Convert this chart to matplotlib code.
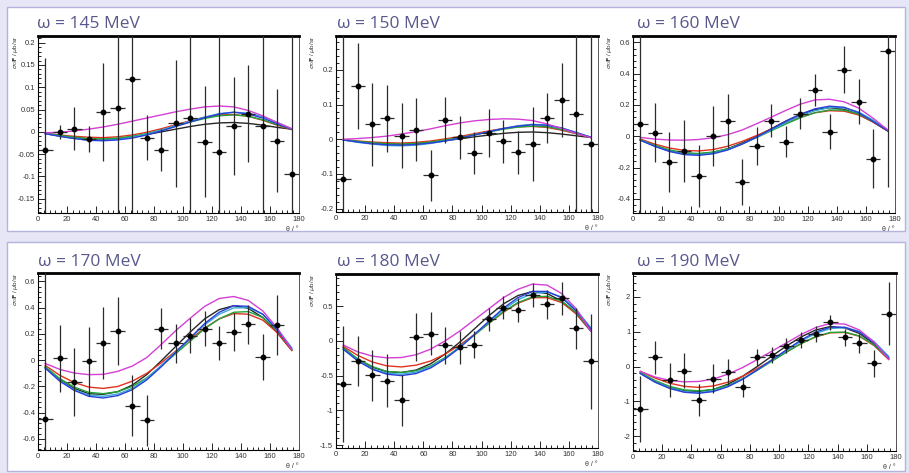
"""
Beam-asymmetry style panels (sigma_0 F vs theta) for six photon energies, ROOT look.
"""
import matplotlib as mpl
import matplotlib.pyplot as plt
from matplotlib.patches import Rectangle
from matplotlib.ticker import MultipleLocator, FuncFormatter

W, H = 909, 473

mpl.rcParams.update({
    "font.family": ["Liberation Sans", "DejaVu Sans"],
    "axes.unicode_minus": False,
})

THETA = [5, 15, 25, 35, 45, 55, 65, 75, 85, 95, 105, 115, 125, 135, 145, 155, 165, 175]
ENERGIES = [145, 150, 160, 170, 180, 190]

# --- measured points ---
Y_145 = [-0.040, -0.001, 0.007, -0.016, 0.045, 0.054, 0.118, -0.013, -0.040, 0.019,
         0.032, -0.022, -0.046, 0.013, 0.041, 0.013, -0.020, -0.094]
ERR_145 = [0.205, 0.016, 0.048, 0.030, 0.110, 0.400, 0.400, 0.051, 0.047, 0.142,
           0.400, 0.125, 0.400, 0.110, 0.108, 0.400, 0.116, 0.400]

Y_150 = [-0.116, 0.154, 0.043, 0.060, 0.010, 0.028, -0.104, 0.055, 0.006, -0.039,
         0.018, -0.006, -0.037, -0.014, 0.061, 0.113, 0.074, -0.015]
ERR_150 = [0.500, 0.123, 0.120, 0.098, 0.094, 0.090, 0.074, 0.066, 0.062, 0.060,
           0.070, 0.062, 0.062, 0.106, 0.073, 0.107, 0.400, 0.400]

Y_160 = [0.081, 0.023, -0.164, -0.094, -0.255, 0.000, 0.098, -0.294, -0.064, 0.100,
         -0.034, 0.145, 0.294, 0.030, 0.426, 0.219, -0.143, 0.545]
ERR_160 = [0.700, 0.190, 0.190, 0.200, 0.196, 0.190, 0.170, 0.146, 0.120, 0.104,
           0.100, 0.098, 0.102, 0.110, 0.147, 0.144, 0.187, 0.870]

Y_170 = [-0.447, 0.015, -0.165, -0.010, 0.130, 0.224, -0.346, -0.457, 0.241, 0.130,
         0.188, 0.241, 0.130, 0.213, 0.274, 0.023, 0.269]
ERR_170 = [1.300, 0.254, 0.260, 0.264, 0.273, 0.260, 0.230, 0.193, 0.159, 0.149,
           0.130, 0.130, 0.132, 0.144, 0.150, 0.174, 0.231]

Y_180 = [-0.617, -0.287, -0.498, -0.574, -0.856, 0.053, 0.100, -0.067, -0.091, -0.053,
         0.311, 0.474, 0.445, 0.660, 0.522, 0.608, 0.177, -0.297]
ERR_180 = [0.830, 0.360, 0.370, 0.380, 0.370, 0.350, 0.310, 0.260, 0.235, 0.200,
           0.165, 0.163, 0.177, 0.175, 0.210, 0.230, 0.300, 0.680]

Y_190 = [-1.221, 0.260, -0.394, -0.115, -0.971, -0.356, -0.154, -0.596, 0.269, 0.327,
         0.596, 0.760, 0.933, 1.269, 0.837, 0.663, 0.087, 1.519]
ERR_190 = [0.950, 0.470, 0.490, 0.490, 0.460, 0.420, 0.380, 0.290, 0.240, 0.225,
           0.220, 0.230, 0.220, 0.225, 0.240, 0.280, 0.400, 0.900]

# --- model curves, read at THETA ---
MAG_145 = [-0.002, -0.001, 0.002, 0.006, 0.011, 0.017, 0.024, 0.031, 0.038, 0.045,
           0.051, 0.056, 0.058, 0.056, 0.048, 0.036, 0.021, 0.007]
BLU_145 = [-0.004, -0.010, -0.015, -0.019, -0.020, -0.018, -0.014, -0.007, 0.002, 0.012,
           0.022, 0.032, 0.040, 0.044, 0.040, 0.031, 0.018, 0.006]
CYA_145 = [-0.004, -0.010, -0.015, -0.018, -0.019, -0.017, -0.012, -0.005, 0.004, 0.014,
           0.024, 0.033, 0.041, 0.044, 0.042, 0.034, 0.021, 0.007]
GRN_145 = [-0.003, -0.008, -0.012, -0.015, -0.016, -0.014, -0.010, -0.004, 0.004, 0.013,
           0.022, 0.030, 0.036, 0.038, 0.035, 0.027, 0.016, 0.006]
RED_145 = [-0.003, -0.007, -0.010, -0.012, -0.013, -0.011, -0.007, -0.001, 0.007, 0.016,
           0.025, 0.033, 0.038, 0.039, 0.035, 0.026, 0.015, 0.005]
BLK_145 = [-0.004, -0.009, -0.013, -0.016, -0.017, -0.015, -0.011, -0.006, 0.000, 0.006,
           0.012, 0.017, 0.020, 0.021, 0.019, 0.015, 0.010, 0.006]

MAG_150 = [0.000, 0.002, 0.005, 0.009, 0.015, 0.022, 0.030, 0.039, 0.047, 0.053,
           0.057, 0.059, 0.058, 0.054, 0.044, 0.031, 0.017, 0.005]
BLU_150 = [-0.002, -0.008, -0.013, -0.016, -0.017, -0.015, -0.011, -0.005, 0.003, 0.012,
           0.022, 0.031, 0.038, 0.042, 0.040, 0.032, 0.019, 0.006]
CYA_150 = [-0.002, -0.009, -0.014, -0.018, -0.019, -0.017, -0.012, -0.005, 0.003, 0.012,
           0.022, 0.031, 0.039, 0.043, 0.041, 0.033, 0.020, 0.006]
GRN_150 = [-0.001, -0.006, -0.010, -0.013, -0.014, -0.012, -0.008, -0.002, 0.005, 0.013,
           0.021, 0.029, 0.035, 0.038, 0.036, 0.028, 0.017, 0.006]
RED_150 = [-0.001, -0.005, -0.008, -0.010, -0.011, -0.009, -0.005, 0.001, 0.008, 0.016,
           0.024, 0.031, 0.036, 0.037, 0.034, 0.026, 0.016, 0.005]
BLK_150 = [-0.002, -0.007, -0.011, -0.013, -0.014, -0.012, -0.009, -0.004, 0.001, 0.007,
           0.012, 0.017, 0.020, 0.021, 0.019, 0.015, 0.010, 0.005]

MAG_160 = [-0.008, -0.018, -0.024, -0.025, -0.021, -0.010, 0.010, 0.040, 0.080, 0.122,
           0.165, 0.205, 0.232, 0.236, 0.220, 0.180, 0.115, 0.040]
BLU_160 = [-0.025, -0.065, -0.097, -0.117, -0.122, -0.112, -0.088, -0.050, -0.005, 0.045,
           0.095, 0.140, 0.175, 0.192, 0.185, 0.150, 0.095, 0.035]
CYA_160 = [-0.025, -0.064, -0.095, -0.113, -0.118, -0.108, -0.085, -0.050, -0.007, 0.040,
           0.087, 0.130, 0.163, 0.183, 0.182, 0.155, 0.103, 0.040]
GRN_160 = [-0.022, -0.058, -0.087, -0.105, -0.110, -0.101, -0.080, -0.048, -0.008, 0.035,
           0.078, 0.118, 0.150, 0.168, 0.166, 0.142, 0.096, 0.037]
RED_160 = [-0.018, -0.050, -0.075, -0.090, -0.094, -0.085, -0.064, -0.033, 0.005, 0.045,
           0.085, 0.122, 0.150, 0.163, 0.160, 0.136, 0.092, 0.035]
BLK_160 = [-0.022, -0.060, -0.090, -0.108, -0.113, -0.103, -0.080, -0.043, 0.000, 0.048,
           0.097, 0.140, 0.170, 0.182, 0.172, 0.140, 0.090, 0.033]

MAG_170 = [-0.025, -0.070, -0.098, -0.110, -0.108, -0.085, -0.045, 0.020, 0.120, 0.225,
           0.320, 0.410, 0.470, 0.485, 0.455, 0.375, 0.245, 0.080]
BLU_170 = [-0.060, -0.160, -0.230, -0.275, -0.288, -0.270, -0.225, -0.150, -0.050, 0.060,
           0.170, 0.280, 0.365, 0.415, 0.410, 0.350, 0.230, 0.085]
CYA_170 = [-0.060, -0.155, -0.225, -0.265, -0.275, -0.258, -0.215, -0.140, -0.040, 0.065,
           0.170, 0.270, 0.350, 0.398, 0.400, 0.350, 0.240, 0.095]
GRN_170 = [-0.050, -0.140, -0.205, -0.245, -0.255, -0.240, -0.200, -0.135, -0.045, 0.050,
           0.145, 0.240, 0.315, 0.365, 0.370, 0.325, 0.225, 0.085]
RED_170 = [-0.040, -0.115, -0.170, -0.205, -0.215, -0.200, -0.160, -0.100, -0.020, 0.070,
           0.160, 0.245, 0.315, 0.355, 0.350, 0.305, 0.210, 0.075]
BLK_170 = [-0.055, -0.150, -0.215, -0.255, -0.260, -0.240, -0.190, -0.110, -0.005, 0.105,
           0.215, 0.315, 0.385, 0.415, 0.395, 0.325, 0.210, 0.075]

MAG_180 = [-0.06, -0.16, -0.22, -0.245, -0.24, -0.20, -0.12, 0.00, 0.14, 0.30,
           0.46, 0.62, 0.74, 0.815, 0.80, 0.68, 0.46, 0.14]
BLU_180 = [-0.12, -0.29, -0.41, -0.48, -0.50, -0.47, -0.39, -0.26, -0.10, 0.09,
           0.28, 0.47, 0.62, 0.71, 0.71, 0.62, 0.43, 0.17]
CYA_180 = [-0.12, -0.28, -0.40, -0.465, -0.48, -0.45, -0.375, -0.25, -0.09, 0.09,
           0.27, 0.45, 0.59, 0.68, 0.70, 0.63, 0.45, 0.19]
GRN_180 = [-0.10, -0.26, -0.37, -0.44, -0.455, -0.43, -0.36, -0.24, -0.09, 0.08,
           0.25, 0.42, 0.55, 0.63, 0.64, 0.57, 0.41, 0.16]
RED_180 = [-0.08, -0.21, -0.305, -0.36, -0.375, -0.35, -0.29, -0.19, -0.06, 0.09,
           0.25, 0.41, 0.54, 0.62, 0.62, 0.55, 0.39, 0.15]
BLK_180 = [-0.10, -0.27, -0.38, -0.445, -0.455, -0.42, -0.33, -0.19, -0.02, 0.17,
           0.36, 0.53, 0.65, 0.71, 0.68, 0.57, 0.39, 0.14]

MAG_190 = [-0.14, -0.30, -0.40, -0.44, -0.43, -0.36, -0.22, -0.03, 0.20, 0.44,
           0.68, 0.92, 1.12, 1.24, 1.22, 1.05, 0.70, 0.22]
BLU_190 = [-0.20, -0.45, -0.63, -0.74, -0.77, -0.72, -0.58, -0.37, -0.10, 0.19,
           0.48, 0.76, 0.99, 1.13, 1.13, 0.99, 0.68, 0.25]
CYA_190 = [-0.20, -0.44, -0.61, -0.72, -0.75, -0.70, -0.57, -0.36, -0.10, 0.18,
           0.46, 0.73, 0.95, 1.09, 1.12, 1.01, 0.72, 0.29]
GRN_190 = [-0.17, -0.40, -0.57, -0.67, -0.70, -0.66, -0.54, -0.35, -0.11, 0.15,
           0.41, 0.66, 0.86, 0.98, 0.99, 0.88, 0.62, 0.23]
RED_190 = [-0.14, -0.33, -0.48, -0.57, -0.60, -0.56, -0.45, -0.28, -0.06, 0.18,
           0.42, 0.66, 0.85, 0.97, 0.98, 0.87, 0.60, 0.20]
BLK_190 = [-0.18, -0.43, -0.60, -0.70, -0.72, -0.66, -0.51, -0.28, 0.00, 0.30,
           0.59, 0.85, 1.05, 1.15, 1.11, 0.95, 0.65, 0.24]

Y_LIMITS = [(-0.182, 0.215), (-0.21, 0.298), (-0.49, 0.64),
            (-0.684, 0.664), (-1.54, 0.96), (-2.43, 2.69)]
Y_MAJOR = [0.05, 0.1, 0.2, 0.2, 0.5, 1.0]

# styling
TITLE_COL = "#58588c"
BOX_EDGE = "#b3b3dd"
BG = "#e6e6f6"
CURVE_COLS = {"blk": "#262626", "red": "#e0321e", "grn": "#22a33a",
              "cya": "#3aa7d6", "blu": "#2a3fd8", "mag": "#d53fd5"}

# axes frames in pixels: left, top, right, bottom
FRAMES = [(38, 36, 299, 213), (336, 36, 598, 212), (633, 36, 895, 213),
          (38, 273, 299, 450), (336, 274, 598, 448), (633, 273, 896, 451)]
TITLE_POS = [(37, 24), (337, 24), (637, 24), (38, 262), (337, 262), (637, 262)]

DATA = {145: (Y_145, ERR_145), 150: (Y_150, ERR_150), 160: (Y_160, ERR_160),
        170: (Y_170, ERR_170), 180: (Y_180, ERR_180), 190: (Y_190, ERR_190)}
CURVES = {
    145: [("blk", BLK_145), ("red", RED_145), ("grn", GRN_145), ("cya", CYA_145), ("blu", BLU_145), ("mag", MAG_145)],
    150: [("blk", BLK_150), ("red", RED_150), ("grn", GRN_150), ("cya", CYA_150), ("blu", BLU_150), ("mag", MAG_150)],
    160: [("blk", BLK_160), ("red", RED_160), ("grn", GRN_160), ("cya", CYA_160), ("blu", BLU_160), ("mag", MAG_160)],
    170: [("blk", BLK_170), ("red", RED_170), ("grn", GRN_170), ("cya", CYA_170), ("blu", BLU_170), ("mag", MAG_170)],
    180: [("blk", BLK_180), ("red", RED_180), ("grn", GRN_180), ("cya", CYA_180), ("blu", BLU_180), ("mag", MAG_180)],
    190: [("blk", BLK_190), ("red", RED_190), ("grn", GRN_190), ("cya", CYA_190), ("blu", BLU_190), ("mag", MAG_190)],
}


def _fmt(v, _pos):
    if abs(v) < 1e-9:
        return "0"
    return f"{round(v, 3):g}"


def _box(fig, x0, y0, x1, y1):
    fig.add_artist(Rectangle((x0 / W, 1 - y1 / H), (x1 - x0) / W, (y1 - y0) / H,
                             transform=fig.transFigure, facecolor="white",
                             edgecolor=BOX_EDGE, linewidth=1.0, zorder=0))


fig = plt.figure(figsize=(W / 100, H / 100), dpi=100, facecolor=BG)
_box(fig, 7, 7, 905, 231)
_box(fig, 7, 242, 905, 471)

for i, e in enumerate(ENERGIES):
    l, t, r, b = FRAMES[i]
    ax = fig.add_axes([l / W, 1 - b / H, (r - l) / W, (b - t) / H])
    ax.set_facecolor("white")

    for key, vals in CURVES[e]:
        ax.plot(THETA, vals, color=CURVE_COLS[key], lw=1.0, zorder=2)

    y, err = DATA[e]
    ax.errorbar(THETA[:len(y)], y, xerr=5, yerr=err, fmt="o", ms=3.2, color="black",
                ecolor="#2b2b2b", elinewidth=0.9, capsize=0, zorder=3)

    ax.set_xlim(0, 180)
    ax.set_ylim(*Y_LIMITS[i])
    ax.xaxis.set_major_locator(MultipleLocator(20))
    ax.xaxis.set_minor_locator(MultipleLocator(4))
    ax.yaxis.set_major_locator(MultipleLocator(Y_MAJOR[i]))
    ax.yaxis.set_minor_locator(MultipleLocator(Y_MAJOR[i] / 5))
    ax.yaxis.set_major_formatter(FuncFormatter(_fmt))
    ax.tick_params(which="both", direction="in", top=False, right=False,
                   labelsize=5.5, labelcolor="#333333", pad=2, width=0.6)
    ax.tick_params(which="major", length=5)
    ax.tick_params(which="minor", length=2.5)

    for side in ("left", "bottom"):
        ax.spines[side].set_linewidth(0.8)
    ax.spines["top"].set_linewidth(2.0)
    ax.spines["right"].set_linewidth(0.7)
    ax.spines["right"].set_color("#555555")

    ax.text(1.0, -0.075, "θ / °", transform=ax.transAxes, ha="right", va="top",
            fontsize=5, color="#333333")
    ax.text(-0.088, 1.0, r"$\sigma_0\mathbf{F}$ / $\mu$b/sr", transform=ax.transAxes,
            rotation=90, ha="center", va="top", fontsize=4.6, color="#333333")

    tx, ty = TITLE_POS[i]
    fig.text(tx / W, 1 - ty / H, f"ω = {e} MeV", fontsize=12.5, color=TITLE_COL,
             va="center", ha="left", family=["Open Sans", "DejaVu Sans"])

fig.savefig("out.png", dpi=100, facecolor=BG)
